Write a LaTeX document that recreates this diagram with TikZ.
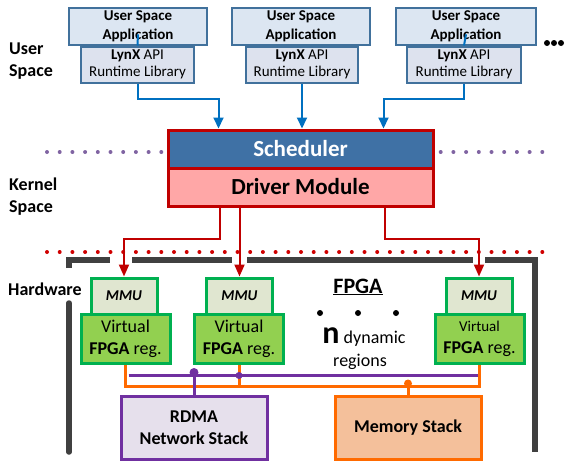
\documentclass[tikz,border=0pt]{standalone}
\usepackage{fontspec}
\setmainfont{Carlito}
\usetikzlibrary{arrows.meta}
\definecolor{appline}{HTML}{41719C}
\definecolor{appfill}{HTML}{DCE6F2}
\definecolor{libfill}{HTML}{DDE2EE}
\definecolor{toblue}{HTML}{0070C0}
\definecolor{schedfill}{HTML}{3F71A5}
\definecolor{drvred}{HTML}{C00000}
\definecolor{drvfill}{HTML}{FFA7A7}
\definecolor{dotpurple}{HTML}{8064A2}
\definecolor{dotred}{HTML}{D00000}
\definecolor{framegray}{HTML}{404040}
\definecolor{regline}{HTML}{00B050}
\definecolor{mmufill}{HTML}{E0E6D0}
\definecolor{virtfill}{HTML}{92D050}
\definecolor{buspurple}{HTML}{7030A0}
\definecolor{rdmafill}{HTML}{E6E0EC}
\definecolor{busorange}{HTML}{FF6A00}
\definecolor{memfill}{HTML}{F4C09B}

\begin{document}
\begin{tikzpicture}[x=1pt,y=-1pt,
    every node/.style={inner sep=0pt,align=center},
    app/.style={draw=appline,fill=appfill,line width=2.6pt,minimum
        height=37pt,font=\fontsize{15}{18.5}\selectfont\bfseries},
    lib/.style={draw=appline,fill=libfill,line width=2.6pt,minimum
        height=36pt,font=\fontsize{15}{17}\selectfont},
    layer/.style={anchor=west,align=left,font=\fontsize{18}{22}\selectfont\bfseries},
    kern/.style={draw=drvred,line width=3pt,minimum width=265pt,minimum
        height=38pt,font=\fontsize{23}{26}\selectfont\bfseries},
    mmu/.style={draw=regline,fill=mmufill,line width=3pt,minimum
        width=66pt,minimum height=36pt,font=\fontsize{15}{18}\selectfont\bfseries\itshape},
    virt/.style={draw=regline,fill=virtfill,line width=3pt,minimum
        width=89pt,minimum height=49pt,font=\fontsize{18}{22}\selectfont},
    stack/.style={line width=3pt,minimum width=146pt,minimum
        height=63pt,font=\fontsize{18}{22}\selectfont\bfseries},
    frame/.style={draw=framegray,line width=5.5pt},
    bus/.style={line width=3pt},
    toarrow/.style={draw=toblue,line width=2pt,-{Triangle[length=11pt,width=10pt]}},
    drvarrow/.style={draw=drvred,line width=2pt,-{Triangle[length=12pt,width=10pt]}},
    bullet/.style={circle,fill,minimum size=#1}]

    \useasboundingbox (0,0) rectangle (567,461);

    % dotted borders between the layers
    \draw[dotpurple,line width=4pt,line cap=round,dash pattern=on 0pt off 12.7pt]
        (47,152) -- (553,152);
    \draw[dotred,line width=4pt,line cap=round,dash pattern=on 0pt off 12.7pt]
        (47,252) -- (553,252);

    % FPGA frame
    \draw[frame] (69,268) -- (69,260) -- (110,260);
    \draw[frame] (132,260) -- (232,260);
    \draw[frame] (247,260) -- (473,260);
    \draw[frame] (485,260) -- (535,260) -- (535,452);
    \draw[frame,line cap=round] (69,303) -- (69,452);

    \node[layer] (usr) at (9,61) {User\\Space};
    \node[layer] (krn) at (9,197) {Kernel\\Space};
    \node[layer] (hw) at (8,289) {Hardware};

    \node[app,minimum width=138pt] (app1) at (138,26.5) {User Space\\Application};
    \node[app,minimum width=138pt] (app2) at (301,26.5) {User Space\\Application};
    \node[app,minimum width=140pt] (app3) at (466,26.5) {User Space\\Application};
    \node[lib,minimum width=113pt] (lib1) at (137.5,64.8) {\textbf{LynX} API\\Runtime Library};
    \node[lib,minimum width=112pt] (lib2) at (302,64.8) {\textbf{LynX} API\\Runtime Library};
    \node[lib,minimum width=114pt] (lib3) at (464,64.8) {\textbf{LynX} API\\Runtime Library};
    \draw[toblue,line width=2pt] ([yshift=12pt]app1.south) -- (lib1.north);
    \draw[toblue,line width=2pt] ([yshift=12pt]app3.south) -- (lib3.north);

    \node[bullet=6pt] (more1) at (547,43) {};
    \node[bullet=6pt] (more2) at (554,43) {};
    \node[bullet=6pt] (more3) at (561,43) {};

    \node[kern,fill=schedfill,text=white] (sched) at (300.5,149) {Scheduler};
    \node[kern,fill=drvfill] (drv) at (300.5,187) {Driver Module};

    \draw[toarrow] (lib1.south) -- ++(0,15) -| ([xshift=52pt]sched.north west);
    \draw[toarrow] (lib2.south) -- (lib2.south |- sched.north);
    \draw[toarrow] (lib3.south) -- ++(0,15) -| ([xshift=-51pt]sched.north east);

    \node[virt] (virt1) at (125.5,338.5) {Virtual\\\textbf{FPGA} reg.};
    \node[virt] (virt2) at (239,338.5) {Virtual\\\textbf{FPGA} reg.};
    \node[virt] (virt3) at (479.5,338.5) {{\fontsize{15}{18}\selectfont Virtual}\\\textbf{FPGA} reg.};
    \node[mmu] (mmu1) at (124,296) {MMU};
    \node[mmu] (mmu2) at (239.5,296) {MMU};
    \node[mmu] (mmu3) at (479,296) {MMU};

    \draw[drvarrow] ([xshift=53pt]drv.south west) -- ++(0,31) -| (mmu1.north);
    \draw[drvarrow] (mmu2.north |- drv.south) -- (mmu2.north);
    \draw[drvarrow] ([xshift=-50pt]drv.south east) -- ++(0,31) -| (mmu3.north);

    \node[font=\fontsize{22}{26}\selectfont\bfseries] (fpga) at (358,287) {\underline{FPGA}};
    \node[bullet=6pt] (reg1) at (320,313) {};
    \node[bullet=6pt] (reg2) at (358,313) {};
    \node[bullet=6pt] (reg3) at (396,313) {};
    \node[font=\fontsize{18}{22}\selectfont] (ndyn) at (364,337)
        {{\fontsize{32}{32}\selectfont\bfseries n} dynamic};
    \node[font=\fontsize{18}{22}\selectfont] (regs) at (360,362) {regions};

    \node[stack,draw=buspurple,fill=rdmafill] (rdma) at (194,427.5) {RDMA\\Network Stack};
    \node[stack,draw=busorange,fill=memfill] (mem) at (408,427.5) {Memory Stack};

    % memory bus
    \draw[bus,busorange] (virt1.south) -- ++(0,22) -| (virt3.south);
    \draw[bus,busorange] (virt2.south) -- ++(0,22);
    \draw[bus,busorange] (mem.north) -- ++(0,-11) coordinate (mbus);
    \node[bullet=8pt,busorange] (mdot) at (mbus) {};

    % network bus
    \coordinate (nl) at ([xshift=3pt,yshift=-11pt]virt1.south);
    \coordinate (nr) at ([xshift=-2pt,yshift=-11pt]virt3.south);
    \draw[bus,buspurple] (nl) -- (nr);
    \draw[bus,buspurple] (rdma.north) -- ++(0,-22) coordinate (nbus);
    \node[bullet=9pt,buspurple] (ndot1) at (nbus) {};
    \node[bullet=7pt,buspurple] (ndot2) at ([yshift=-11pt]virt2.south) {};

\end{tikzpicture}
\end{document}
